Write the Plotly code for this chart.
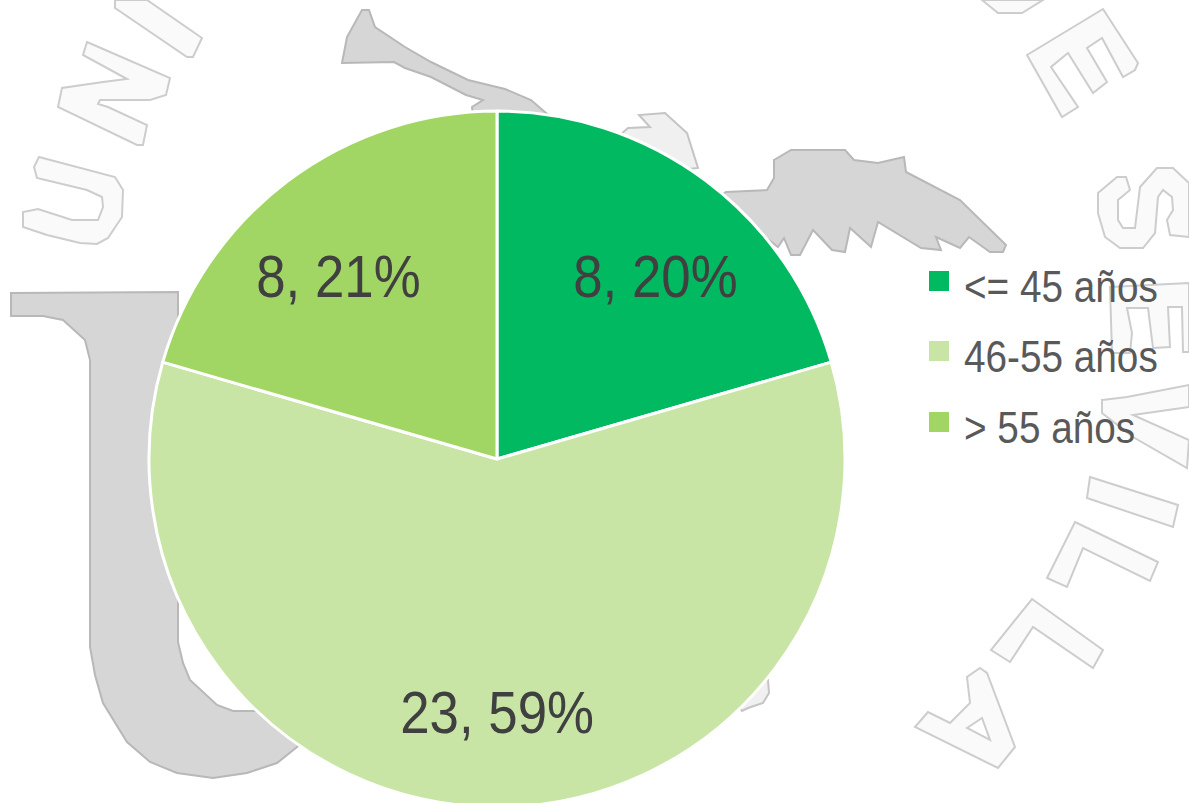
import plotly.graph_objects as go

categories = ["<= 45 años", "46-55 años", "> 55 años"]
values = [8, 23, 8]
labels_text = ["8, 20%", "23, 59%", "8, 21%"]
colors = ["#00B961", "#C8E5A5", "#A2D664"]

W, H = 1189, 810
cx, cy, r = 497, 459, 348
label_xy = [(655, 276), (497, 712), (338, 276)]
legend_rows = [281, 351, 422]
CONDENSE = 0.88

# Background watermark artwork (pixel outlines of the faded seal)
solid_parts = [
    [(11,293),(178,292),(178,642),(183,663),(190,680),(217,705),(233,711),(260,711),(320,720),(297,747),(277,763),
     (247,773),(213,778),(177,773),(150,762),(127,742),(103,703),(95,675),(90,647),(90,360),(85,340),(63,320),(43,316),(11,316)],
    [(342,63),(347,37),(362,10),(369,10),(375,27),(405,47),(431,62),(468,80),(505,89),(531,100),(560,125),(474,125),
     (472,107),(483,100),(466,95),(431,77),(405,68),(394,62)],
    [(726,192),(767,190),(774,178),(774,160),(791,150),(845,150),(854,160),(878,163),(904,157),(906,172),(960,200),
     (1006,245),(1003,252),(990,252),(969,237),(960,248),(936,237),(941,250),(921,248),(878,222),(871,247),(850,228),
     (845,252),(832,250),(813,230),(800,255),(791,255),(784,238),(778,247),(769,240),(700,210)],
]
faint_parts = [
    [(628,128),(650,127),(639,115),(665,113),(687,133),(698,168),(680,170),(620,135)],
    [(768,680),(769,693),(763,703),(748,708),(742,711),(735,700),(750,680)],
]
letter_parts = [
    [(39,157),(115,177),(123,190),(122,217),(108,238),(97,244),(80,243),(47,235),(23,227),(23,212),(38,209),(72,220),
     (98,220),(103,207),(102,197),(87,190),(37,178),(34,167)],
    [(87,42),(170,78),(166,95),(150,100),(100,100),(98,104),(108,107),(147,125),(143,145),(137,145),(58,107),(62,88),
     (103,82),(127,79),(83,55)],
    [(115,0),(147,0),(202,38),(193,57),(187,57),(115,8)],
    [(982,0),(998,13),(1022,13),(1043,0)],
    [(1027,55),(1103,9),(1138,63),(1135,70),(1123,77),(1102,38),(1087,48),(1107,82),(1093,93),(1068,53),(1051,67),
     (1078,107),(1062,117)],
    [(1098,193),(1117,177),(1126,177),(1130,190),(1118,200),(1118,220),(1123,228),(1135,228),(1140,187),(1157,168),
     (1173,168),(1189,183),(1189,237),(1170,235),(1167,220),(1173,210),(1172,197),(1163,190),(1158,197),(1155,233),
     (1143,248),(1120,248),(1105,237),(1098,213)],
    [(1110,287),(1189,283),(1189,352),(1183,352),(1182,307),(1168,307),(1170,347),(1153,348),(1148,308),(1127,308),
     (1132,333),(1130,353),(1112,353)],
    [(1102,400),(1127,397),(1189,385),(1189,407),(1133,415),(1189,440),(1187,468),(1133,437),(1102,413)],
    [(1090,477),(1178,505),(1173,527),(1087,498)],
    [(1075,522),(1158,562),(1150,581),(1083,548),(1067,587),(1047,578)],
    [(1032,599),(1103,650),(1093,668),(1033,627),(1010,662),(991,650)],
    [(980,668),(987,673),(1015,747),(998,768),(915,727),(928,712),(950,723),(970,703),(967,677)],
]
letter_holes = [[(967,728),(982,718),(990,740)]]


def outline(points, fill, edge, width):
    path = "M" + " L".join(f"{x},{y}" for x, y in points) + " Z"
    return dict(type="path", layer="below", xref="x", yref="y", path=path,
                fillcolor=fill, line=dict(color=edge, width=width))


shapes = []
shapes += [outline(p, "#D6D6D6", "#B8B8B8", 2) for p in solid_parts]
shapes += [outline(p, "#F0F0F0", "#C4C4C4", 2) for p in faint_parts]
shapes += [outline(p, "#FAFAFA", "#CDCDCD", 2) for p in letter_parts]
shapes += [outline(p, "#FFFFFF", "#CDCDCD", 2) for p in letter_holes]

annotations = []
FONT = "Liberation Sans, Arial, sans-serif"
for txt, (x, y) in zip(labels_text, label_xy):
    annotations.append(dict(text=txt, x=x, y=y, xref="x", yref="y", showarrow=False,
                            xanchor="center", yanchor="middle",
                            font=dict(family=FONT, size=60, color="#404040")))
for name, col, yy in zip(categories, colors, legend_rows):
    shapes.append(dict(type="rect", layer="above", xref="x", yref="y", x0=929, x1=949, y0=yy - 10, y1=yy + 10,
                       fillcolor=col, line=dict(width=0)))
    annotations.append(dict(text=name.replace("<", "&lt;").replace(">", "&gt;"), x=962, y=yy + 5, xref="x", yref="y",
                            showarrow=False, xanchor="left", yanchor="middle",
                            font=dict(family=FONT, size=44, color="#595959")))

fig = go.Figure()
fig.add_trace(go.Scatter(x=[0], y=[0], mode="markers", marker=dict(opacity=0), showlegend=False, hoverinfo="skip"))
fig.add_trace(go.Pie(
    labels=categories, values=values, textinfo="none", sort=False, direction="clockwise", rotation=0,
    marker=dict(colors=colors, line=dict(color="white", width=3)), showlegend=False,
    domain=dict(x=[(cx - r) / W, (cx + r) / W], y=[max(0, 1 - (cy + r) / H), 1 - (cy - r) / H]),
))
fig.update_layout(
    width=W, height=H, autosize=False, margin=dict(l=0, r=0, t=0, b=0),
    paper_bgcolor="white", plot_bgcolor="rgba(0,0,0,0)",
    xaxis=dict(range=[0, W], visible=False, fixedrange=True),
    yaxis=dict(range=[H, 0], visible=False, fixedrange=True),
    shapes=shapes, annotations=annotations, showlegend=False,
)

post = """
document.body.style.margin = '0';
document.documentElement.style.overflow = 'hidden';
var f = %s;
document.querySelectorAll('.annotation-text').forEach(function (t) {
  var w = t.getComputedTextLength();
  t.setAttribute('textLength', w * f);
  t.setAttribute('lengthAdjust', 'spacingAndGlyphs');
  if (t.textContent.indexOf('años') >= 0) {
    t.setAttribute('x', parseFloat(t.getAttribute('x') || 0) - w * (1 - f) / 2);
  }
});
""" % CONDENSE
fig.write_html("out.html", config=dict(displayModeBar=False), post_script=post)
